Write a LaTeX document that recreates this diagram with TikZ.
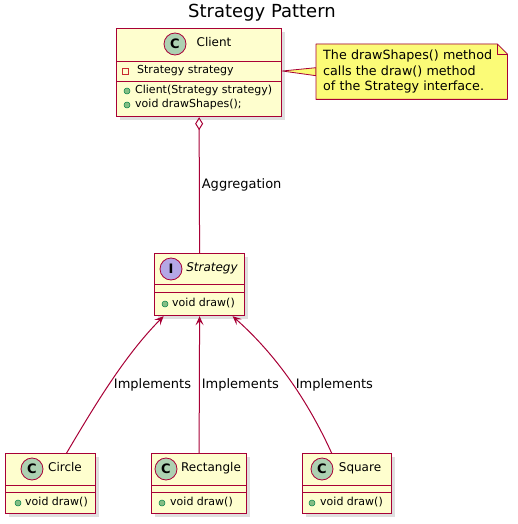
\documentclass[tikz,border=0pt]{standalone}
\usepackage{fontspec}
\setmainfont{DejaVu Sans}
\usetikzlibrary{arrows.meta,shadows,backgrounds}
\definecolor{umlRed}{HTML}{A80036}
\definecolor{umlFill}{HTML}{FEFECE}
\definecolor{noteFill}{HTML}{FBFB77}
\definecolor{badgeC}{HTML}{ADD1B2}
\definecolor{badgeI}{HTML}{B4A7E5}
\definecolor{pubFill}{HTML}{84BE84}
\definecolor{pubDraw}{HTML}{038048}
\definecolor{privDraw}{HTML}{C82930}

\begin{document}
\begin{tikzpicture}[
        x=1pt, y=-1pt,
        title/.style={font=\fontsize{18}{20}\selectfont, anchor=base, inner sep=0pt},
        cls/.style={draw=umlRed, fill=umlFill, line width=1.2pt, anchor=north west, inner sep=0pt,
            drop shadow={shadow xshift=3pt, shadow yshift=-3pt, opacity=0.25}},
        sep/.style={draw=umlRed, line width=0.8pt},
        badge/.style={circle, draw=umlRed, line width=0.8pt, minimum size=22pt, inner sep=0pt,
            font=\fontsize{13}{13}\selectfont\bfseries},
        clsname/.style={font=\fontsize{12}{14}\selectfont, anchor=mid, inner sep=0pt},
        member/.style={font=\fontsize{11}{13}\selectfont, anchor=mid west, inner sep=0pt},
        pub/.style={circle, draw=pubDraw, fill=pubFill, minimum size=6pt, inner sep=0pt, line width=0.5pt},
        priv/.style={rectangle, draw=privDraw, minimum size=6pt, inner sep=0pt, line width=0.8pt},
        notetext/.style={font=\fontsize{12.7}{15.5}\selectfont, align=left, text width=177pt,
            inner xsep=7pt, inner ysep=0pt, minimum height=55pt, anchor=north west},
        notebox/.style={draw=umlRed, fill=noteFill, line width=0.8pt, line join=round},
        conn/.style={draw=umlRed, line width=1pt},
        impl/.style={conn, -{Stealth[length=9pt, width=8pt, inset=4pt]}},
        lbl/.style={font=\fontsize{13}{15}\selectfont, inner sep=2pt}
    ]

        \useasboundingbox (0,0) rectangle (517,524);

        % ========================================================
        % TITULO
        % ========================================================
        \node[title] (title) at (262,18) {Strategy Pattern};

        % ========================================================
        % CLIENT
        % ========================================================
        \node[cls, minimum width=165pt, minimum height=88pt] (client) at (116,28) {};
        \draw[sep] ([yshift=-33pt]client.north west) -- ([yshift=-33pt]client.north east);
        \draw[sep] ([yshift=-53pt]client.north west) -- ([yshift=-53pt]client.north east);

        \node[badge, fill=badgeC] (clientC) at (175,44) {C};
        \node[clsname] (clientName) at (214,44) {Client};

        \node[priv] (clientA1) at (125,71) {};
        \node[member] (clientAttr) at (137,71) {Strategy strategy};
        \node[pub] (clientM1) at (127,91) {};
        \node[member] (clientCtor) at (135,91) {Client(Strategy strategy)};
        \node[pub] (clientM2) at (127,105) {};
        \node[member] (clientDraw) at (135,105) {void drawShapes();};

        % ========================================================
        % NOTA
        % ========================================================
        \node[notetext] (note) at (316,44) {The drawShapes() method\\calls the draw() method\\of the Strategy interface.};

        \begin{scope}[on background layer]
            \fill[black, opacity=0.25, xshift=3pt, yshift=-3pt]
                (note.north west) -- ([xshift=-10pt]note.north east) -- ([yshift=-10pt]note.north east)
                -- (note.south east) -- (note.south west) -- cycle;
            \filldraw[notebox] ([yshift=-43pt]client.north east) -- ([yshift=4pt]note.west)
                -- ([yshift=-4pt]note.west) -- cycle;
            \filldraw[notebox] (note.north west) -- ([xshift=-10pt]note.north east)
                -- ([yshift=-10pt]note.north east) -- (note.south east) -- (note.south west) -- cycle;
            \draw[notebox, fill=none] ([xshift=-10pt]note.north east) |- ([yshift=-10pt]note.north east);
        \end{scope}

        % ========================================================
        % STRATEGY (INTERFAZ)
        % ========================================================
        \node[cls, minimum width=90pt, minimum height=62pt] (strat) at (154,253) {};
        \draw[sep] ([yshift=-31pt]strat.north west) -- ([yshift=-31pt]strat.north east);
        \draw[sep] ([yshift=-39pt]strat.north west) -- ([yshift=-39pt]strat.north east);

        \node[badge, fill=badgeI] (stratI) at (171,269) {I};
        \node[clsname, font=\fontsize{12}{14}\selectfont\itshape] (stratName) at (212,269) {Strategy};
        \node[pub] (stratM1) at (165,304) {};
        \node[member] (stratDraw) at (172,304) {void draw()};

        % ========================================================
        % IMPLEMENTACIONES
        % ========================================================
        \node[cls, minimum width=90pt, minimum height=60pt] (circle) at (5,453) {};
        \draw[sep] ([yshift=-32pt]circle.north west) -- ([yshift=-32pt]circle.north east);
        \draw[sep] ([yshift=-39pt]circle.north west) -- ([yshift=-39pt]circle.north east);
        \node[badge, fill=badgeC] (circleC) at (32,469) {C};
        \node[clsname] (circleName) at (65,469) {Circle};
        \node[pub] (circleM1) at (18,503) {};
        \node[member] (circleDraw) at (25,503) {void draw()};

        \node[cls, minimum width=95pt, minimum height=60pt] (rect) at (151,453) {};
        \draw[sep] ([yshift=-32pt]rect.north west) -- ([yshift=-32pt]rect.north east);
        \draw[sep] ([yshift=-39pt]rect.north west) -- ([yshift=-39pt]rect.north east);
        \node[badge, fill=badgeC] (rectC) at (166,469) {C};
        \node[clsname] (rectName) at (211,469) {Rectangle};
        \node[pub] (rectM1) at (162,503) {};
        \node[member] (rectDraw) at (170,503) {void draw()};

        \node[cls, minimum width=89pt, minimum height=60pt] (square) at (302,453) {};
        \draw[sep] ([yshift=-32pt]square.north west) -- ([yshift=-32pt]square.north east);
        \draw[sep] ([yshift=-39pt]square.north west) -- ([yshift=-39pt]square.north east);
        \node[badge, fill=badgeC] (squareC) at (322,469) {C};
        \node[clsname] (squareName) at (360,469) {Square};
        \node[pub] (squareM1) at (312,503) {};
        \node[member] (squareDraw) at (320,503) {void draw()};

        % ========================================================
        % RELACIONES
        % ========================================================
        \draw[conn, {Diamond[length=13pt, width=8pt, fill=white]}-] (client.south)
            -- node[lbl, anchor=west] {Aggregation} (strat.north);

        \draw[impl] ([xshift=16pt]circle.north) .. controls (95,405) and (125,355)
            .. node[lbl, pos=0.47, anchor=west, xshift=3pt] {Implements} ([xshift=-36pt]strat.south);
        \draw[impl] (rect.north) -- node[lbl, anchor=west] {Implements} (strat.south);
        \draw[impl] ([xshift=-15.5pt]square.north) .. controls (312,410) and (282,360)
            .. node[lbl, pos=0.5, anchor=west] {Implements} ([xshift=33pt]strat.south);

    \end{tikzpicture}
\end{document}
